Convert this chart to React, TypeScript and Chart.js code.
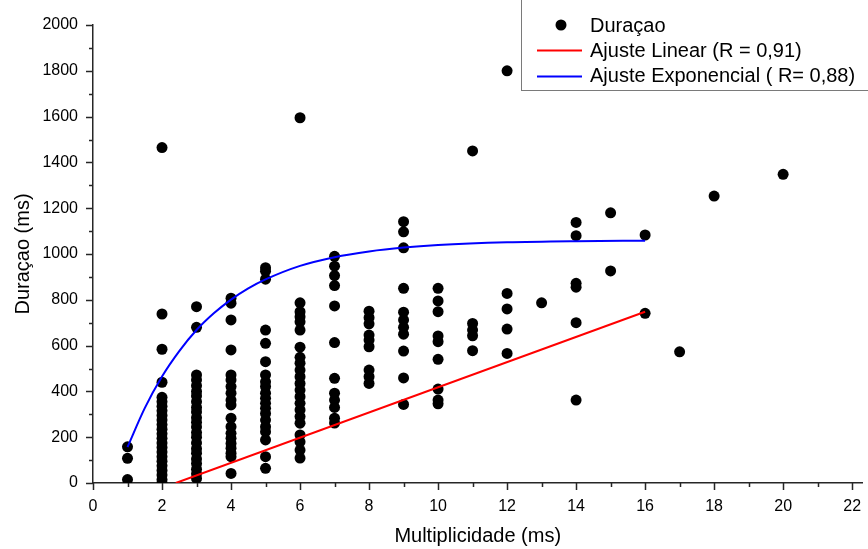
import React, { useEffect, useRef } from 'react';
import { Chart, registerables } from 'chart.js';

Chart.register(...registerables);

// Multiplicity values (x) and the durations (ms) observed at each multiplicity
const multiplicities = [1, 2, 3, 4, 5, 6, 7, 8, 9, 10, 11, 12, 13, 14, 15, 16, 17, 18, 20];
const durations: number[][] = [
  [158, 108, 15],
  [1465, 738, 584, 440, 374, 355, 335, 315, 295, 275, 255, 235, 215, 195, 175, 155, 135, 115, 95, 75, 55, 35, 15, 0],
  [770, 680, 472, 450, 425, 400, 380, 355, 330, 310, 285, 265, 245, 220, 200, 175, 150, 130, 105, 85, 60, 40, 20],
  [807, 785, 712, 581, 472, 450, 421, 392, 362, 341, 283, 246, 217, 195, 173, 152, 130, 115, 42],
  [940, 925, 890, 668, 610, 530, 472, 442, 421, 392, 370, 348, 326, 304, 275, 246, 224, 188, 115, 64],
  [1595, 787, 748, 726, 704, 668, 593, 549, 523, 493, 464, 435, 406, 377, 348, 319, 290, 261, 210, 180, 144, 109],
  [990, 947, 906, 862, 773, 613, 457, 392, 362, 330, 283, 262],
  [750, 722, 695, 646, 624, 595, 493, 464, 435],
  [1141, 1097, 1027, 850, 746, 712, 680, 650, 576, 459, 343],
  [850, 795, 748, 642, 617, 540, 410, 362, 346],
  [1450, 697, 668, 643, 578],
  [1800, 828, 760, 672, 566],
  [787],
  [1138, 1080, 872, 855, 700, 362],
  [1180, 926],
  [1083, 741],
  [573],
  [1253],
  [1348],
];

// Fitted curves
const linFitX = [2.4, 16];
const linFitY = [0, 748];
const expFitX = [1, 1.5, 2, 2.5, 3, 3.5, 4, 4.5, 5, 6, 7, 8, 9, 10, 12, 14, 16];
const expFitY = [157, 327, 465, 576, 668, 741, 801, 850, 889, 948, 986, 1011, 1028, 1039, 1051, 1056, 1058];

// Axis ticks
const xMajorTicks = [0, 2, 4, 6, 8, 10, 12, 14, 16, 18, 20, 22];
const xMinorTicks = [1, 3, 5, 7, 9, 11, 13, 15, 17, 19, 21];
const yMajorTicks = [0, 200, 400, 600, 800, 1000, 1200, 1400, 1600, 1800, 2000];
const yMinorTicks = [100, 300, 500, 700, 900, 1100, 1300, 1500, 1700, 1900];

const seriesLabels = ['Duraçao', 'Ajuste Linear (R = 0,91)', 'Ajuste Exponencial ( R= 0,88)'];
const xTitle = 'Multiplicidade (ms)';
const yTitle = 'Duraçao (ms)';

const FONT = "'Liberation Sans', Arial, sans-serif";
const AXIS_COLOR = '#262626';

const tickMarksPlugin = {
  id: 'tickMarks',
  afterDraw(chart: any) {
    const ctx = chart.ctx;
    const xs = chart.scales.x;
    const ys = chart.scales.y;
    const { left, bottom } = chart.chartArea;
    ctx.save();
    ctx.strokeStyle = AXIS_COLOR;
    ctx.lineWidth = 1.5;
    ctx.beginPath();
    xMajorTicks.forEach((v) => {
      const p = Math.round(xs.getPixelForValue(v)) + 0.5;
      ctx.moveTo(p, bottom);
      ctx.lineTo(p, bottom + 7);
    });
    xMinorTicks.forEach((v) => {
      const p = Math.round(xs.getPixelForValue(v)) + 0.5;
      ctx.moveTo(p, bottom);
      ctx.lineTo(p, bottom + 4);
    });
    yMajorTicks.forEach((v) => {
      const p = Math.round(ys.getPixelForValue(v)) + 0.5;
      ctx.moveTo(left, p);
      ctx.lineTo(left - 7, p);
    });
    yMinorTicks.forEach((v) => {
      const p = Math.round(ys.getPixelForValue(v)) + 0.5;
      ctx.moveTo(left, p);
      ctx.lineTo(left - 4, p);
    });
    ctx.stroke();
    ctx.restore();
  },
};

const legendPlugin = {
  id: 'boxLegend',
  afterDraw(chart: any) {
    const ctx = chart.ctx;
    ctx.save();
    const bx = 521.5, by = -1, bw = 350, bh = 91.5;
    ctx.fillStyle = '#ffffff';
    ctx.fillRect(bx, by, bw, bh);
    ctx.strokeStyle = '#7a7a7a';
    ctx.lineWidth = 1;
    ctx.strokeRect(bx, by, bw, bh);

    ctx.font = `20px ${FONT}`;
    ctx.fillStyle = '#000';
    ctx.textBaseline = 'alphabetic';
    ctx.textAlign = 'left';
    ctx.beginPath();
    ctx.arc(561, 25, 5.5, 0, Math.PI * 2);
    ctx.fill();
    ctx.fillText(seriesLabels[0], 590, 32);
    ctx.strokeStyle = '#ff0000';
    ctx.lineWidth = 2;
    ctx.beginPath();
    ctx.moveTo(537, 50.5);
    ctx.lineTo(582, 50.5);
    ctx.stroke();
    ctx.fillText(seriesLabels[1], 590, 57);
    ctx.strokeStyle = '#0000ff';
    ctx.beginPath();
    ctx.moveTo(537, 76.5);
    ctx.lineTo(582, 76.5);
    ctx.stroke();
    ctx.fillText(seriesLabels[2], 590, 82);
    ctx.restore();
  },
};

export default function App() {
  const canvasRef = useRef<HTMLCanvasElement | null>(null);

  useEffect(() => {
    document.body.style.margin = '0';
    const canvas = canvasRef.current;
    if (!canvas) return;

    const scatterPoints: { x: number; y: number }[] = [];
    multiplicities.forEach((m, i) => {
      durations[i].forEach((d) => scatterPoints.push({ x: m, y: d }));
    });
    const linPoints = linFitX.map((x, i) => ({ x, y: linFitY[i] }));
    const expPoints = expFitX.map((x, i) => ({ x, y: expFitY[i] }));

    const chart = new Chart(canvas, {
      type: 'scatter',
      data: {
        datasets: [
          {
            label: seriesLabels[0],
            data: scatterPoints,
            pointRadius: 5.5,
            pointHoverRadius: 5.5,
            backgroundColor: '#000000',
            borderColor: '#000000',
            borderWidth: 0,
            order: 3,
          },
          {
            label: seriesLabels[1],
            data: linPoints,
            showLine: true,
            pointRadius: 0,
            borderColor: '#ff0000',
            backgroundColor: '#ff0000',
            borderWidth: 2,
            order: 1,
          },
          {
            label: seriesLabels[2],
            data: expPoints,
            showLine: true,
            pointRadius: 0,
            borderColor: '#0000ff',
            backgroundColor: '#0000ff',
            borderWidth: 2,
            cubicInterpolationMode: 'monotone',
            order: 2,
          },
        ],
      } as any,
      options: {
        animation: false,
        responsive: false,
        devicePixelRatio: 1,
        layout: { padding: { left: 0, right: 2, top: 25, bottom: 0 } },
        plugins: {
          legend: { display: false },
          tooltip: { enabled: false },
        },
        scales: {
          x: {
            type: 'linear',
            min: 0,
            max: 22.3,
            grid: { display: false, drawTicks: false },
            border: { display: true, color: AXIS_COLOR, width: 1.5 },
            afterBuildTicks: (scale: any) => {
              scale.ticks = xMajorTicks.map((v) => ({ value: v }));
            },
            afterFit: (scale: any) => {
              scale.height = 66;
              scale.paddingLeft = 0;
              scale.paddingRight = 0;
            },
            ticks: {
              autoSkip: false,
              maxRotation: 0,
              padding: 14,
              color: '#000',
              font: { family: FONT, size: 16 },
              callback: (v: any) => String(v),
            },
            title: {
              display: true,
              text: xTitle,
              color: '#000',
              font: { family: FONT, size: 20 },
              padding: { top: 0, bottom: 1 },
            },
          },
          y: {
            type: 'linear',
            min: 0,
            max: 2000,
            grid: { display: false, drawTicks: false },
            border: { display: true, color: AXIS_COLOR, width: 1.5 },
            afterBuildTicks: (scale: any) => {
              scale.ticks = yMajorTicks.map((v) => ({ value: v }));
            },
            afterFit: (scale: any) => {
              scale.width = 93;
              scale.paddingTop = 0;
              scale.paddingBottom = 0;
            },
            ticks: {
              autoSkip: false,
              padding: 15,
              color: '#000',
              font: { family: FONT, size: 16 },
              callback: (v: any) => String(v),
            },
            title: {
              display: true,
              text: yTitle,
              color: '#000',
              font: { family: FONT, size: 20 },
              padding: { top: 11, bottom: 0 },
            },
          },
        },
      } as any,
      plugins: [tickMarksPlugin, legendPlugin],
    });

    return () => {
      chart.destroy();
    };
  }, []);

  return (
    <div style={{ width: 868, height: 549, position: 'relative' }}>
      <canvas ref={canvasRef} width={868} height={549} style={{ display: 'block' }} />
    </div>
  );
}
